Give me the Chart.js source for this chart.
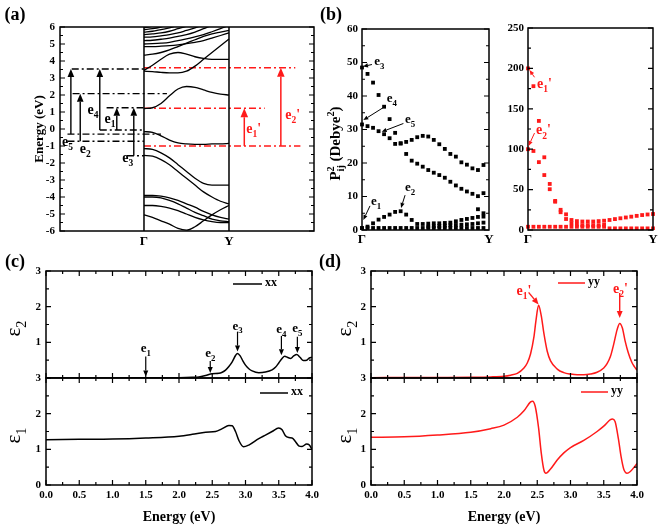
<!DOCTYPE html>
<html>
<head>
<meta charset="UTF-8">
<script src="https://cdn.jsdelivr.net/npm/chart.js"></script>
<style>
  body { margin: 0; background: #fff; }
  #wrap { position: relative; width: 660px; height: 526px; }
  canvas { position: absolute; left: 0; top: 0; }
</style>
</head>
<body>
<div id="wrap">
  <canvas id="pa" width="660" height="526"></canvas>
  <canvas id="pbl" width="660" height="526"></canvas>
  <canvas id="pbr" width="660" height="526"></canvas>
  <canvas id="pct" width="660" height="526"></canvas>
  <canvas id="pcb" width="660" height="526"></canvas>
  <canvas id="pdt" width="660" height="526"></canvas>
  <canvas id="pdb" width="660" height="526"></canvas>
</div>
<script>
// ---- (a) band structure, Γ -> Y ----
const bandX = [0, 0.1, 0.2, 0.3, 0.4, 0.5, 0.6, 0.7, 0.8, 0.9, 1];
const bands = [
  [5.95, 6.05, 6.2, 6.4, 6.6],
  [5.85, 5.9, 6.0, 6.15, 6.35, 6.6],
  [5.7, 5.75, 5.85, 5.95, 6.1, 6.3, 6.5],
  [5.55, 5.6, 5.65, 5.75, 5.9, 6.05, 6.25, 6.5],
  [5.4, 5.42, 5.48, 5.55, 5.65, 5.8, 5.95, 6.15, 6.4],
  [5.2, 5.22, 5.28, 5.35, 5.45, 5.55, 5.7, 5.9, 6.1, 6.35],
  [5.0, 5.02, 5.05, 5.1, 5.2, 5.3, 5.42, 5.55, 5.72, 5.9, 6.1],
  [4.85, 4.85, 4.87, 4.9, 4.95, 5.02, 5.1, 5.2, 5.35, 5.5, 5.65],
  [4.35, 4.4, 4.5, 4.65, 4.85, 5.05, 5.25, 5.45, 5.6, 5.7, 5.8],
  [3.45, 3.75, 4.1, 4.4, 4.5, 4.4, 4.25, 4.15, 4.1, 4.1, 4.1],
  [3.4, 3.38, 3.33, 3.3, 3.3, 3.4, 3.7, 4.1, 4.5, 4.9, 5.3],
  [1.2, 1.25, 1.5, 1.95, 2.35, 2.5, 2.45, 2.3, 2.15, 2.05, 2.0],
  [-0.15, -0.2, -0.4, -0.65, -0.82, -0.88, -0.9, -0.9, -0.88, -0.87, -0.85],
  [-1.15, -1.2, -1.4, -1.7, -2.1, -2.5, -2.9, -3.2, -3.3, -3.3, -3.3],
  [-1.55, -1.6, -1.8, -2.1, -2.5, -2.9, -3.3, -3.7, -4.0, -4.25, -4.4],
  [-3.9, -3.9, -3.95, -4.05, -4.2, -4.4, -4.6, -4.85, -5.05, -5.2, -5.3],
  [-4.0, -4.0, -4.05, -4.2, -4.4, -4.65, -4.9, -5.1, -5.3, -5.4, -5.45],
  [-4.5, -4.5, -4.55, -4.65, -4.8, -5.0, -5.2, -5.35, -5.45, -5.5, -5.5],
  [-5.05, -5.2, -5.4, -5.6, -5.85, -5.95, -5.75, -5.4, -5.05, -4.75, -4.5]
];
const aYTicks = [6, 5, 4, 3, 2, 1, 0, -1, -2, -3, -4, -5, -6];
const aPath = ['Γ', 'Y'];
// transition levels (eV) and their extent along the path
const blackLevelE = [3.53, 2.08, 1.25, -0.06, -0.3, -0.72, -1.57];
const blackLevelFrom = [-0.85, -0.84, -0.44, -0.52, -0.9, -0.9, -0.2];
const blackLevelTo = [0, 0.27, 0, 0, 0.2, 0, 0];
const redLevelE = [3.6, 1.22, -1.0];
const redLevelFrom = [0, 0, 0];
const redLevelTo = [1.78, 1.42, 1.84];
const blackArrX = [-0.86, -0.75, -0.52, -0.32, -0.12];
const blackArrFrom = [-0.3, -0.72, -0.06, -0.06, -1.57];
const blackArrTo = [3.53, 2.08, 3.53, 1.25, 1.25];
const redArrX = [1.18, 1.61];
const redArrFrom = [-1.0, -1.0];
const redArrTo = [1.22, 3.6];
const aLabSub = ['5', '2', '4', '1', '3'];
const aLabX = [-0.9, -0.69, -0.6, -0.4, -0.19];
const aLabE = [-0.7, -1.12, 1.18, 0.65, -1.65];
const aRedLabSub = ['1', '2'];
const aRedLabX = [1.29, 1.75];
const aRedLabE = [0.06, 0.88];

// ---- (b) squared transition dipole, Γ -> Y ----
const kPath = ['Γ', '', '', '', '', '', '', '', '', '', '', '', '', '', '', '', '', '', '', '', '', '', '', 'Y'];
const pA = [48.5, 46.6, 44, 40.3, 36.8, 33.1, 29, 25.8, 22.7, 20.7, 19.8, 18.9, 17.9, 17.1, 16.4, 15.6, 14.4, 13.3, 12.3, 11.5, 10.8, 10.1, 11, null];
const pB = [31.5, 31, 30.5, 29.5, 28.6, 27.4, 25.7, 25.9, 26.3, 26.9, 27.7, 28.1, 27.9, 26.9, 25.6, 24.2, 22.7, 21.9, 20.2, 19.5, 18.4, 17.9, 19.4, null];
const pC = [0.5, 1.0, 2.0, 3.1, 3.9, 4.6, 5.4, 5.6, 4.6, 3.0, 1.8, 1.8, 1.9, 2.0, 2.0, 2.1, 2.2, 2.6, 3.0, 3.3, 3.6, 3.9, 4.0, null];
const pD = [null, null, null, null, null, null, null, null, null, null, null, null, null, null, null, null, null, null, null, null, null, 6.2, 5.0, null];
const pE = [0.6, 0.6, 0.6, 0.6, 0.6, 0.6, 0.6, 0.6, 0.6, 0.6, 0.6, 0.6, 0.6, 0.6, 0.6, 0.6, 0.6, 0.6, 0.6, 0.6, 0.6, 0.6, 0.6, null];
const pF = [null, null, null, null, null, null, null, null, null, null, null, null, 1.0, 1.1, 1.2, 1.3, 1.4, 1.5, 1.6, 1.7, 1.8, 2.0, 2.2, null];
const pR1 = [200, 178, 135, 90, 57, 36, 25, 19.4, 12.4, 11, 10.5, 10.5, 10.5, 11, 11.5, 12.4, 13.5, 14.5, 15.5, 16.5, 17.5, 18.5, 19.2, 19.8];
const pR2 = [100, 97.8, 84, 68, 50.5, 35, 22, 13.6, 8.3, 6.5, 6, 6, 6, 6, 6.5, null, null, null, null, null, null, null, null, null];
const pR3 = [4, 4, 4, 4, 4, 4, 4, 4, 4, 4, 4, 4, 4, 4, 4, 2, 2, 2, 2, 2, 2, 2, 2, 2];
const bLTicks = [0, 10, 20, 30, 40, 50, 60];
const bRTicks = [0, 50, 100, 150, 200, 250];
const bLArrSub = ['3', '4', '5', '1', '2'];
const bLArrTail = [[1.8, 49.4], [4.3, 37], [7.5, 31.8], [1.45, 7.2], [7.8, 10.4]];
const bLArrTip = [[0.18, 48.8], [0.24, 32.8], [3.57, 29.3], [0.24, 3], [7.07, 6.6]];
const bLLab = [[2.2, 49.9], [4.5, 38.8], [7.8, 32.5], [1.63, 8.1], [7.8, 12.2]];
const bRArrSub = ['1', '2'];
const bRArrTail = [[1.2, 189], [1.2, 120]];
const bRArrTip = [[0.28, 198], [0.1, 104]];
const bRLab = [[1.66, 182], [1.47, 124]];

// ---- (c), (d) dielectric function ----
const xxE2 = [0, 0.5, 1.0, 1.5, 2.0, 2.2, 2.3, 2.4, 2.5, 2.6, 2.65, 2.7, 2.75, 2.8, 2.85, 2.88, 2.92, 2.96, 3.0, 3.05, 3.1, 3.2, 3.3, 3.4, 3.45, 3.5, 3.55, 3.59, 3.63, 3.68, 3.72, 3.77, 3.82, 3.87, 3.92, 3.96, 4.0];
const eps2xx = [0, 0, 0.003, 0.005, 0.01, 0.02, 0.03, 0.07, 0.12, 0.13, 0.16, 0.22, 0.32, 0.45, 0.63, 0.69, 0.62, 0.48, 0.36, 0.26, 0.2, 0.15, 0.17, 0.23, 0.3, 0.42, 0.55, 0.61, 0.58, 0.55, 0.61, 0.66, 0.58, 0.49, 0.5, 0.56, 0.58];
const xxE1 = [0, 0.5, 1.0, 1.5, 2.0, 2.2, 2.4, 2.55, 2.65, 2.75, 2.8, 2.85, 2.9, 2.97, 3.05, 3.2, 3.3, 3.4, 3.5, 3.55, 3.6, 3.65, 3.7, 3.75, 3.8, 3.85, 3.92, 3.96, 4.0];
const eps1xx = [1.27, 1.28, 1.29, 1.32, 1.37, 1.42, 1.48, 1.5, 1.58, 1.67, 1.66, 1.5, 1.25, 1.07, 1.12, 1.3, 1.4, 1.5, 1.6, 1.55, 1.38, 1.33, 1.32, 1.22, 1.1, 1.08, 1.15, 1.12, 1.0];
const yyE2 = [0, 0.5, 1.0, 1.5, 1.8, 2.0, 2.1, 2.2, 2.3, 2.35, 2.4, 2.45, 2.48, 2.52, 2.56, 2.6, 2.65, 2.7, 2.8, 2.9, 3.0, 3.1, 3.2, 3.3, 3.4, 3.5, 3.55, 3.6, 3.65, 3.7, 3.74, 3.78, 3.82, 3.87, 3.92, 3.96, 4.0];
const eps2yy = [0.01, 0.012, 0.015, 0.02, 0.03, 0.05, 0.08, 0.13, 0.28, 0.42, 0.68, 1.15, 1.6, 2.04, 1.75, 1.25, 0.75, 0.48, 0.25, 0.15, 0.11, 0.09, 0.09, 0.11, 0.16, 0.28, 0.4, 0.6, 0.95, 1.35, 1.53, 1.4, 1.05, 0.7, 0.45, 0.32, 0.22];
const yyE1 = [0, 0.5, 1.0, 1.5, 1.8, 2.0, 2.2, 2.3, 2.4, 2.43, 2.47, 2.52, 2.56, 2.6, 2.63, 2.7, 2.8, 2.9, 3.0, 3.2, 3.4, 3.5, 3.6, 3.63, 3.67, 3.72, 3.76, 3.8, 3.85, 3.9, 4.0];
const eps1yy = [1.34, 1.35, 1.4, 1.48, 1.58, 1.68, 1.9, 2.08, 2.33, 2.35, 2.2, 1.6, 0.9, 0.42, 0.33, 0.45, 0.7, 0.9, 1.05, 1.25, 1.5, 1.65, 1.83, 1.85, 1.78, 1.3, 0.8, 0.45, 0.33, 0.38, 0.6];
const eTicks = [0, 0.5, 1.0, 1.5, 2.0, 2.5, 3.0, 3.5, 4.0];
const epsTopTicks = [1, 2, 3];
const epsBotTicks = [0, 1, 2, 3];
const cArrSub = ['1', '2', '3', '4', '5'];
const cArrX = [1.5, 2.47, 2.88, 3.54, 3.78];
const cArrTop = [0.6, 0.48, 1.3, 1.18, 1.16];
const cArrTip = [0.04, 0.14, 0.74, 0.64, 0.7];
const cLabY = [0.84, 0.72, 1.48, 1.37, 1.42];
const dArrSub = ['1', '2'];
const dArrTail = [[2.37, 2.4], [3.74, 2.38]];
const dArrTip = [[2.52, 2.06], [3.74, 1.68]];
const dLab = [[2.3, 2.46], [3.75, 2.52]];

const FONT = '"Liberation Serif", "Times New Roman", serif';
const RED = '#ff1a1a';

function txt(ctx, s, x, y, size, opt) {
  opt = opt || {};
  ctx.save();
  ctx.font = (opt.bold === false ? '' : 'bold ') + size + 'px ' + FONT;
  ctx.fillStyle = opt.color || '#000';
  ctx.textAlign = opt.align || 'center';
  ctx.textBaseline = 'middle';
  ctx.translate(x, y);
  if (opt.rot) ctx.rotate(opt.rot);
  ctx.fillText(s, 0, 0);
  ctx.restore();
}

// parts: [text, 0 normal | 1 sub | 2 sup, keep x (stack next part on it)]
function rich(ctx, parts, x, y, size, opt) {
  opt = opt || {};
  const w = opt.bold === false ? '' : 'bold ';
  const fs = m => (m ? size * 0.68 : size);
  ctx.save();
  ctx.fillStyle = opt.color || '#000';
  ctx.textBaseline = 'alphabetic';
  ctx.translate(x, y);
  if (opt.rot) ctx.rotate(opt.rot);
  const widths = parts.map(p => { ctx.font = w + fs(p[1]) + 'px ' + FONT; return ctx.measureText(p[0]).width; });
  let total = 0, hold = 0;
  parts.forEach((p, i) => {
    if (p[2]) { hold = widths[i]; return; }
    total += Math.max(hold, widths[i]); hold = 0;
  });
  let cx = opt.align === 'left' ? 0 : opt.align === 'right' ? -total : -total / 2;
  const base = size * 0.33;
  hold = 0;
  parts.forEach((p, i) => {
    ctx.font = w + fs(p[1]) + 'px ' + FONT;
    const dy = p[1] === 1 ? size * 0.3 : p[1] === 2 ? -size * 0.42 : 0;
    ctx.fillText(p[0], cx, base + dy);
    if (p[2]) { hold = widths[i]; return; }
    cx += Math.max(hold, widths[i]); hold = 0;
  });
  ctx.restore();
}

function arrow(ctx, x0, y0, x1, y1, color, lw, head) {
  const ang = Math.atan2(y1 - y0, x1 - x0);
  const hx = x1 - head * Math.cos(ang), hy = y1 - head * Math.sin(ang);
  const sx = head * 0.42 * Math.sin(ang), sy = head * 0.42 * Math.cos(ang);
  ctx.save();
  ctx.strokeStyle = color; ctx.fillStyle = color; ctx.lineWidth = lw;
  ctx.beginPath(); ctx.moveTo(x0, y0); ctx.lineTo(hx, hy); ctx.stroke();
  ctx.beginPath(); ctx.moveTo(x1, y1);
  ctx.lineTo(hx + sx, hy - sy); ctx.lineTo(hx - sx, hy + sy);
  ctx.closePath(); ctx.fill();
  ctx.restore();
}

function frame(c) {
  const a = c.chartArea, ctx = c.ctx;
  ctx.save(); ctx.strokeStyle = '#000'; ctx.lineWidth = 1.5;
  ctx.strokeRect(a.left, a.top, a.right - a.left, a.bottom - a.top);
  ctx.restore();
}

function ticks(c, axis, min, step, n, len, sides) {
  const a = c.chartArea, ctx = c.ctx, s = c.scales[axis];
  ctx.save(); ctx.strokeStyle = '#000'; ctx.lineWidth = 1.2;
  ctx.beginPath();
  for (let i = 0; i <= n; i++) {
    const p = s.getPixelForValue(min + i * step);
    if (axis === 'y') {
      if (sides.includes('l')) { ctx.moveTo(a.left, p); ctx.lineTo(a.left + len, p); }
      if (sides.includes('r')) { ctx.moveTo(a.right, p); ctx.lineTo(a.right - len, p); }
    } else {
      if (sides.includes('b')) { ctx.moveTo(p, a.bottom); ctx.lineTo(p, a.bottom - len); }
      if (sides.includes('t')) { ctx.moveTo(p, a.top); ctx.lineTo(p, a.top + len); }
    }
  }
  ctx.stroke(); ctx.restore();
}

function build(id, box, datasets, xs, ys, labels, draw) {
  return new Chart(document.getElementById(id), {
    type: 'line',
    data: { labels: labels, datasets: datasets },
    options: {
      responsive: false, animation: false, devicePixelRatio: 1, events: [],
      layout: { padding: { left: box[0], top: box[1], right: 660 - box[2], bottom: 526 - box[3] } },
      plugins: { legend: { display: false }, tooltip: { enabled: false } },
      scales: { x: Object.assign({ display: false }, xs), y: Object.assign({ display: false }, ys) }
    },
    plugins: [{ id: 'deco', afterDraw: draw }]
  });
}

function curve(xv, yv, color, w) {
  return { data: xv.map((x, i) => ({ x: x, y: yv[i] })), borderColor: color, borderWidth: w,
    pointRadius: 0, cubicInterpolationMode: 'monotone', fill: false };
}
function level(e, x0, x1, color) {
  return { data: [{ x: x0, y: e }, { x: x1, y: e }], borderColor: color, borderWidth: 1.4,
    borderDash: [7, 3, 2, 3], pointRadius: 0 };
}
function dots(vals, color) {
  return { data: vals, showLine: false, pointStyle: 'rect', pointRadius: 2.7,
    pointBackgroundColor: color, pointBorderWidth: 0, borderColor: color };
}

// ---------- panel (a) ----------
const aSets = bands.map(b => curve(bandX.slice(0, b.length), b, '#000', 1.3));
blackLevelE.forEach((e, i) => aSets.push(level(e, blackLevelFrom[i], blackLevelTo[i], '#000')));
redLevelE.forEach((e, i) => aSets.push(level(e, redLevelFrom[i], redLevelTo[i], RED)));

build('pa', [60, 27, 314, 231], aSets, { type: 'linear', min: -0.988, max: 2 }, { min: -6, max: 6 }, undefined, c => {
  const ctx = c.ctx, a = c.chartArea, X = c.scales.x, Y = c.scales.y;
  frame(c);
  ctx.save(); ctx.lineWidth = 1.5; ctx.beginPath();
  [0, 1].forEach(v => { const p = X.getPixelForValue(v); ctx.moveTo(p, a.top); ctx.lineTo(p, a.bottom); });
  ctx.stroke(); ctx.restore();
  ticks(c, 'y', -6, 1, 12, 5, 'lr');
  ticks(c, 'y', -5.5, 1, 11, 3, 'lr');
  aYTicks.forEach(v => txt(ctx, String(v), a.left - 5, Y.getPixelForValue(v), 11, { align: 'right' }));
  txt(ctx, 'Energy (eV)', 40, (a.top + a.bottom) / 2, 13, { rot: -Math.PI / 2 });
  aPath.forEach((s, i) => txt(ctx, s, X.getPixelForValue(i), a.bottom + 11, 13));
  blackArrX.forEach((x, i) => arrow(ctx, X.getPixelForValue(x), Y.getPixelForValue(blackArrFrom[i]),
    X.getPixelForValue(x), Y.getPixelForValue(blackArrTo[i]), '#000', 1.4, 8));
  redArrX.forEach((x, i) => arrow(ctx, X.getPixelForValue(x), Y.getPixelForValue(redArrFrom[i]),
    X.getPixelForValue(x), Y.getPixelForValue(redArrTo[i]), RED, 1.5, 9));
  aLabSub.forEach((s, i) => rich(ctx, [['e', 0], [s, 1]], X.getPixelForValue(aLabX[i]), Y.getPixelForValue(aLabE[i]), 14));
  aRedLabSub.forEach((s, i) => rich(ctx, [['e', 0], [s, 1], ["'", 0]], X.getPixelForValue(aRedLabX[i]),
    Y.getPixelForValue(aRedLabE[i]), 14, { color: RED }));
  txt(ctx, '(a)', 15, 15, 18);
});

// ---------- panel (b) left ----------
build('pbl', [362, 29, 489, 230], [dots(pE, '#000'), dots(pF, '#000'), dots(pC, '#000'), dots(pD, '#000'), dots(pB, '#000'), dots(pA, '#000')],
  { type: 'category' }, { min: 0, max: 60 }, kPath, c => {
  const ctx = c.ctx, a = c.chartArea, X = c.scales.x, Y = c.scales.y;
  frame(c);
  ticks(c, 'y', 0, 10, 6, 5, 'lr');
  ticks(c, 'y', 5, 10, 5, 3, 'lr');
  bLTicks.forEach(v => txt(ctx, String(v), a.left - 4, Y.getPixelForValue(v), 11, { align: 'right' }));
  kPath.forEach((s, i) => { if (s) txt(ctx, s, X.getPixelForValue(i), a.bottom + 10, 13); });
  rich(ctx, [['P', 0], ['ij', 1, 1], ['2', 2], [' (Debye', 0], ['2', 2], [')', 0]], 335, (a.top + a.bottom) / 2 + 14, 15, { rot: -Math.PI / 2 });
  bLArrSub.forEach((s, i) => {
    arrow(ctx, X.getPixelForValue(bLArrTail[i][0]), Y.getPixelForValue(bLArrTail[i][1]),
      X.getPixelForValue(bLArrTip[i][0]), Y.getPixelForValue(bLArrTip[i][1]), '#000', 1, 5);
    rich(ctx, [['e', 0], [s, 1]], X.getPixelForValue(bLLab[i][0]), Y.getPixelForValue(bLLab[i][1]) - 2, 13, { align: 'left' });
  });
  txt(ctx, '(b)', 331, 15, 18);
});

// ---------- panel (b) right ----------
build('pbr', [528, 28, 653, 230], [dots(pR3, RED), dots(pR2, RED), dots(pR1, RED)],
  { type: 'category' }, { min: 0, max: 250 }, kPath, c => {
  const ctx = c.ctx, a = c.chartArea, X = c.scales.x, Y = c.scales.y;
  frame(c);
  ticks(c, 'y', 0, 50, 5, 5, 'lr');
  ticks(c, 'y', 25, 50, 4, 3, 'lr');
  bRTicks.forEach(v => txt(ctx, String(v), a.left - 4, Y.getPixelForValue(v), 11, { align: 'right' }));
  kPath.forEach((s, i) => { if (s) txt(ctx, s, X.getPixelForValue(i), a.bottom + 10, 13); });
  bRArrSub.forEach((s, i) => {
    arrow(ctx, X.getPixelForValue(bRArrTail[i][0]), Y.getPixelForValue(bRArrTail[i][1]),
      X.getPixelForValue(bRArrTip[i][0]), Y.getPixelForValue(bRArrTip[i][1]), RED, 1, 5);
    rich(ctx, [['e', 0], [s, 1], ["'", 0]], X.getPixelForValue(bRLab[i][0]), Y.getPixelForValue(bRLab[i][1]), 14, { align: 'left', color: RED });
  });
});

// ---------- panels (c), (d) ----------
function epsDeco(c, o) {
  const ctx = c.ctx, a = c.chartArea, X = c.scales.x, Y = c.scales.y;
  frame(c);
  ticks(c, 'x', 0, 0.5, 8, 5, 'tb');
  ticks(c, 'x', 0.25, 0.5, 7, 3, 'tb');
  ticks(c, 'y', 0, 1, 3, 5, 'lr');
  ticks(c, 'y', 0.5, 1, 2, 3, 'lr');
  o.yTicks.forEach(v => txt(ctx, String(v), a.left - 5, Y.getPixelForValue(v), 11, { align: 'right' }));
  if (o.bottom) {
    eTicks.forEach(v => txt(ctx, v.toFixed(1), X.getPixelForValue(v), a.bottom + 10, 11));
    txt(ctx, 'Energy (eV)', (a.left + a.right) / 2, a.bottom + 32, 14);
  }
  ctx.save(); ctx.strokeStyle = o.color; ctx.lineWidth = 1.5; ctx.beginPath();
  ctx.moveTo(a.right - o.leg[0], a.top + o.leg[2]); ctx.lineTo(a.right - o.leg[1], a.top + o.leg[2]);
  ctx.stroke(); ctx.restore();
  txt(ctx, o.name, a.right - o.leg[1] + 3, a.top + o.leg[2] - 1, 12, { align: 'left' });
  rich(ctx, [['ε', 0], [o.sub, 1]], o.epsX, (a.top + a.bottom) / 2 + 4, 21, { rot: -Math.PI / 2, bold: false });
  if (o.panel) txt(ctx, o.panel[0], o.panel[1], a.top - 9, 18);
}

build('pct', [46, 271, 312, 378], [curve(xxE2, eps2xx, '#000', 1.5)],
  { type: 'linear', min: 0, max: 4 }, { min: 0, max: 3 }, undefined, c => {
  epsDeco(c, { yTicks: epsTopTicks, color: '#000', name: 'xx', leg: [79, 50, 13], sub: '2', epsX: 13, panel: ['(c)', 15] });
  const ctx = c.ctx, X = c.scales.x, Y = c.scales.y;
  cArrSub.forEach((s, i) => {
    const px = X.getPixelForValue(cArrX[i]);
    arrow(ctx, px, Y.getPixelForValue(cArrTop[i]), px, Y.getPixelForValue(cArrTip[i]), '#000', 1.2, 6);
    rich(ctx, [['e', 0], [s, 1]], px, Y.getPixelForValue(cLabY[i]), 13);
  });
});
build('pcb', [46, 378, 312, 485], [curve(xxE1, eps1xx, '#000', 1.5)],
  { type: 'linear', min: 0, max: 4 }, { min: 0, max: 3 }, undefined, c => {
  epsDeco(c, { yTicks: epsBotTicks, color: '#000', name: 'xx', leg: [52, 24, 15], sub: '1', epsX: 13, bottom: true });
});
build('pdt', [371, 271, 637, 378], [curve(yyE2, eps2yy, RED, 1.5)],
  { type: 'linear', min: 0, max: 4 }, { min: 0, max: 3 }, undefined, c => {
  epsDeco(c, { yTicks: epsTopTicks, color: RED, name: 'yy', leg: [79, 52, 12], sub: '2', epsX: 344, panel: ['(d)', 330] });
  const ctx = c.ctx, X = c.scales.x, Y = c.scales.y;
  dArrSub.forEach((s, i) => {
    arrow(ctx, X.getPixelForValue(dArrTail[i][0]), Y.getPixelForValue(dArrTail[i][1]),
      X.getPixelForValue(dArrTip[i][0]), Y.getPixelForValue(dArrTip[i][1]), RED, 1.4, 7);
    rich(ctx, [['e', 0], [s, 1], ["'", 0]], X.getPixelForValue(dLab[i][0]), Y.getPixelForValue(dLab[i][1]), 14, { color: RED });
  });
});
build('pdb', [371, 378, 637, 485], [curve(yyE1, eps1yy, RED, 1.5)],
  { type: 'linear', min: 0, max: 4 }, { min: 0, max: 3 }, undefined, c => {
  epsDeco(c, { yTicks: epsBotTicks, color: RED, name: 'yy', leg: [56, 29, 14], sub: '1', epsX: 344, bottom: true });
});
</script>
</body>
</html>
